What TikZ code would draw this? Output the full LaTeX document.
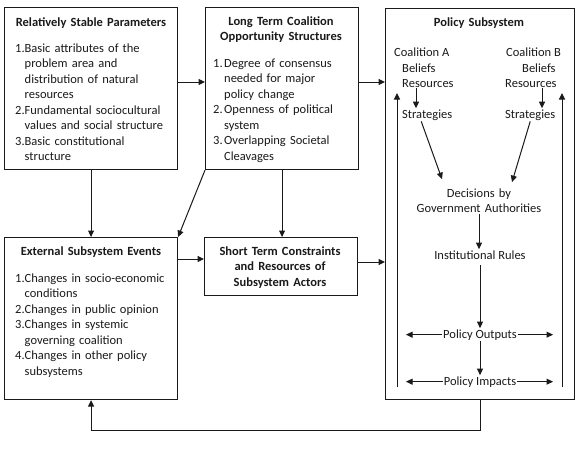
\documentclass[tikz,border=0pt]{standalone}
\usepackage{fontspec}
\setmainfont{Carlito}
\usetikzlibrary{arrows.meta,calc}
\definecolor{ink}{HTML}{1A1A1A}
\newlength\lw
\newcommand\li[2]{\noindent\hangindent=\lw\hangafter=1\makebox[\lw][l]{#1}#2}
\begin{document}
\begin{tikzpicture}[x=1pt,y=-1pt,
  every node/.style={text=ink,font=\fontsize{12.5}{15.5}\selectfont},
  box/.style={draw=ink,line width=1.1pt,anchor=north west,inner sep=0pt},
  ttl/.style={font=\fontsize{12.5}{15.8}\selectfont\bfseries,align=center,anchor=base,inner sep=0pt,text width=165pt},
  lst/.style={anchor=base west,inner sep=0pt,text width=175pt},
  pt/.style={inner sep=1pt},
  arr/.style={draw=ink,line width=1pt,-{Triangle[length=6.5pt,width=6pt]}}]
\useasboundingbox[fill=white] (0,0) rectangle (580,450);
% boxes
\node[box,minimum width=173pt,minimum height=162pt] (b1) at (4,7) {};
\node[box,minimum width=153pt,minimum height=162pt] (b2) at (205,7) {};
\node[box,minimum width=189pt,minimum height=391pt] (ps) at (385,8) {};
\node[box,minimum width=173pt,minimum height=162pt] (b3) at (4,237) {};
\node[box,minimum width=153pt,minimum height=58pt] (b4) at (204,237) {};
% titles
\node[ttl] (t1) at (91,26) {Relatively Stable Parameters};
\node[ttl] (t2) at (281,25) {Long Term Coalition\\Opportunity Structures};
\node[ttl] (t3) at (91,255) {External Subsystem Events};
\node[ttl] (t4) at (280,255) {Short Term Constraints\\and Resources of\\Subsystem Actors};
\node[ttl] (t5) at (479,26) {Policy Subsystem};
% lists
\node[lst] (l1) at (15,52) {\setlength\lw{9.5pt}%
\li{1.}{Basic attributes of the\newline problem area and\newline distribution of natural\newline resources}\par
\li{2.}{Fundamental sociocultural\newline values and social structure}\par
\li{3.}{Basic constitutional\newline structure}\par};
\node[lst] (l2) at (213,67) {\setlength\lw{11pt}%
\li{1.}{Degree of consensus\newline needed for major\newline policy change}\par
\li{2.}{Openness of political\newline system}\par
\li{3.}{Overlapping Societal\newline Cleavages}\par};
\node[lst] (l3) at (15,282) {\setlength\lw{9.5pt}%
\li{1.}{Changes in socio-economic\newline conditions}\par
\li{2.}{Changes in public opinion}\par
\li{3.}{Changes in systemic\newline governing coalition}\par
\li{4.}{Changes in other policy\newline subsystems}\par};
% policy subsystem contents
\node[pt,anchor=base west] (coA) at (393,56) {Coalition A};
\node[pt,anchor=base west] (belA) at (401,72) {Beliefs};
\node[pt,anchor=base west] (resA) at (401,87) {Resources};
\node[pt,anchor=base west] (strA) at (401,118) {Strategies};
\node[pt,anchor=base west] (coB) at (505,56) {Coalition B};
\node[pt,anchor=base west] (belB) at (521,72) {Beliefs};
\node[pt,anchor=base west] (resB) at (504,87) {Resources};
\node[pt,anchor=base west] (strB) at (504,118) {Strategies};
\node[pt,anchor=base,align=center,text width=140pt] (dec) at (479,197) {Decisions by\\Government Authorities};
\node[pt,anchor=base] (inst) at (480,259) {Institutional Rules};
\node[pt,anchor=base] (out) at (480,338) {Policy Outputs};
\node[pt,anchor=base] (imp) at (480,385) {Policy Impacts};
\coordinate (La) at (397,387);
\coordinate (Lb) at (397,93);
\coordinate (Ra) at (562,387);
\coordinate (Rb) at (562,93);
\coordinate (Lin) at (406,0);
\coordinate (Rin) at (553,0);
\coordinate (y82) at (0,82);
\coordinate (y259) at (0,259);
\coordinate (y262) at (0,262);
% connectors outside
\draw[arr] (b1.east |- y82) -- (b2.west |- y82);
\draw[arr] (b2.east |- y82) -- (ps.west |- y82);
\draw[arr] (b3.east |- y259) -- (b4.west |- y259);
\draw[arr] (b4.east |- y262) -- (ps.west |- y262);
\draw[arr] (b1.south) -- (b3.north);
\draw[arr] (b2.south west) -- (b3.north east);
\draw[arr] (b2.south) -- (b2.south |- b4.north);
\draw[arr] (ps.south) -- ++(0,30) -| (b3.south);
% connectors inside
\draw[arr] ([xshift=15pt]resA.south west) -- ([xshift=15pt]strA.north west);
\draw[arr] ([xshift=38pt]resB.south west) -- ([xshift=38pt]strB.north west);
\draw[arr] ([xshift=-6pt]strA.south) -- ([xshift=-37pt,yshift=8pt]dec.north);
\draw[arr] (strB.south) -- ([xshift=33pt,yshift=5pt]dec.north);
\draw[arr] (dec.south) -- (dec.south |- inst.north);
\draw[arr,shorten <=5pt] (inst.south) -- (out.north);
\draw[arr] (out.south) -- (imp.north);
\draw[arr] (out.west) -- (out.west -| Lin);
\draw[arr] (out.east) -- (out.east -| Rin);
\draw[arr] (imp.west) -- (imp.west -| Lin);
\draw[arr] (imp.east) -- (imp.east -| Rin);
\draw[arr] (La) -- (Lb);
\draw[arr] (Ra) -- (Rb);
\end{tikzpicture}
\end{document}
